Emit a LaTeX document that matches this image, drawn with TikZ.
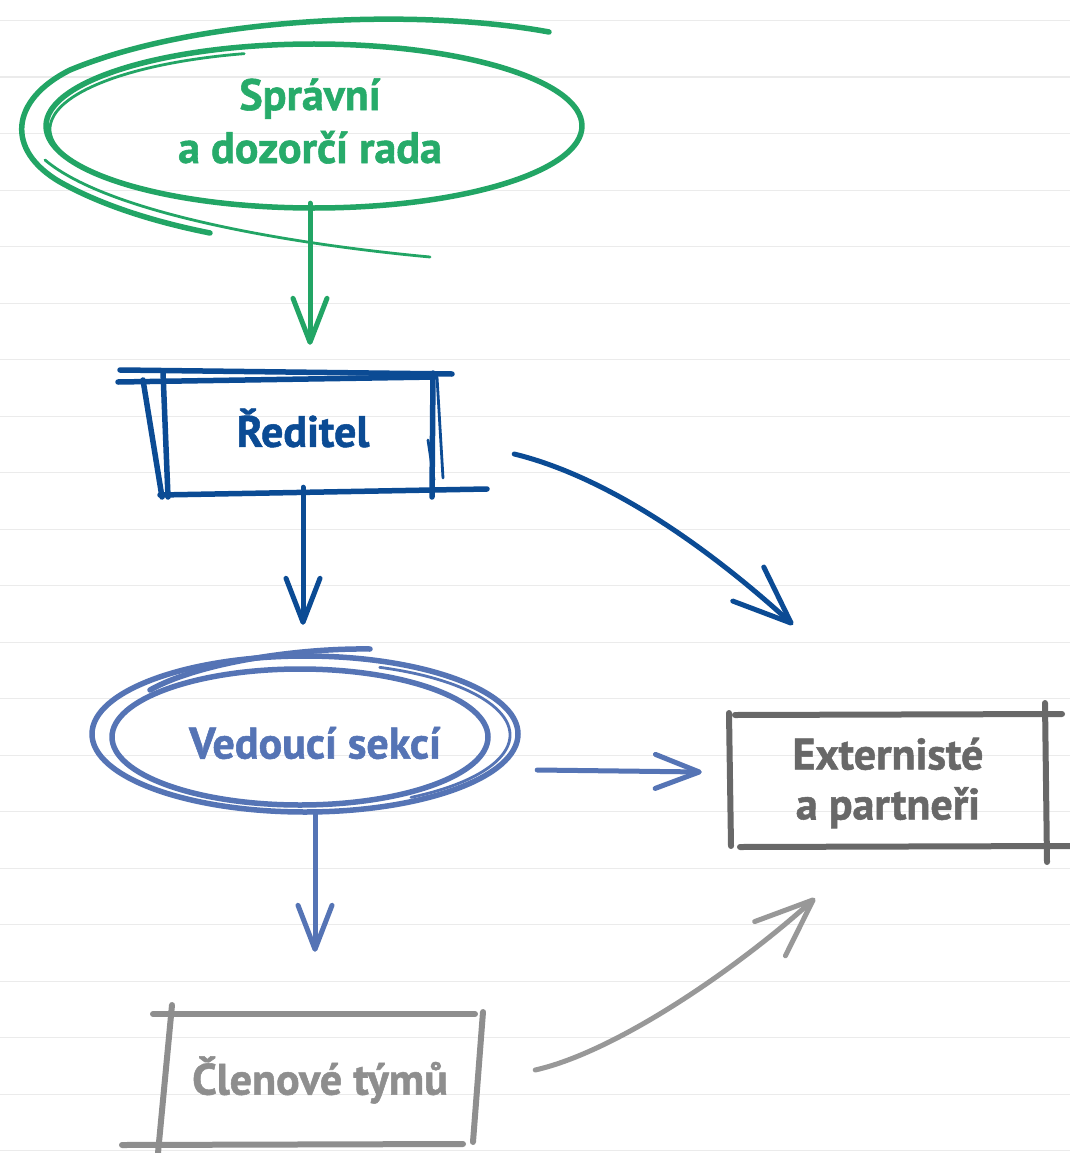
\documentclass[tikz,border=0pt]{standalone}
\usepackage{fontspec}
\setmainfont{PT Sans}[BoldFeatures={FakeBold=1.2}]
\usetikzlibrary{arrows.meta,shapes.geometric}
\definecolor{rulegray}{HTML}{EBEBEB}
\definecolor{cgreen}{HTML}{22A565}
\definecolor{tgreen}{HTML}{27AB6A}
\definecolor{dblue}{HTML}{0B4B94}
\definecolor{mblue}{HTML}{5574B5}
\definecolor{dgray}{HTML}{686868}
\definecolor{lgray}{HTML}{8E8E8E}
\definecolor{agray}{HTML}{989898}
\begin{document}
\begin{tikzpicture}[x=1pt,y=-1pt,
  rule/.style={draw=rulegray, line width=1.4pt},
  sk/.style={line width=5.5pt, line cap=round, line join=round},
  skthin/.style={line width=2.8pt, line cap=round, line join=round},
  lbl/.style={font=\fontsize{44}{53}\selectfont\bfseries, align=center, inner sep=0pt},
  arr/.style={line width=5pt, line cap=round, -{Straight Barb[round,length=44pt,width=34pt]}},
  bigarr/.style={line width=5pt, line cap=round, -{Straight Barb[round,length=58pt,width=46pt]}}]
\useasboundingbox (0,0) rectangle (1070,1153);
\fill[white] (0,0) rectangle (1070,1153);
\foreach \i in {0,...,20} \draw[rule] (0,20.7+56.5*\i) -- (1070,20.7+56.5*\i);

% ---------- nodes (text) ----------
\node[lbl, text=tgreen, shape=ellipse, minimum width=536pt, minimum height=164pt] (council) at (310,121) {Správní\\a dozorčí rada};
\node[lbl, text=dblue, shape=rectangle, minimum width=275pt, minimum height=118pt] (director) at (303,428) {Ředitel};
\node[lbl, text=mblue, shape=ellipse, minimum width=426pt, minimum height=156pt] (vedouci) at (315,743) {Vedoucí sekcí};
\node[lbl, text=dgray, shape=rectangle, minimum width=318pt, minimum height=133pt] (ext) at (888,783) {Externisté\\[-3pt]a partneři};
\node[lbl, text=lgray, shape=rectangle, minimum width=320pt, minimum height=130pt] (members) at (320,1080) {Členové týmů};

% ---------- sketched outlines ----------
% council (green ellipse with loops)
\draw[sk, cgreen] (314,126) ellipse [x radius=268, y radius=82];
\draw[skthin, cgreen] ([shift={(100:262 and 78)}]312,129) arc[start angle=100, end angle=255, x radius=262, y radius=78];
\draw[sk, cgreen] (549,32) .. controls (420,8) and (200,16) .. (70,70)
   .. controls (10,100) and (5,150) .. (60,182) .. controls (110,210) and (170,225) .. (210,233);
\draw[skthin, cgreen] (45,160) .. controls (110,215) and (300,245) .. (430,257);

% director (dark blue sketchy box)
\draw[sk, dblue] (120,370) -- (452,374);
\draw[sk, dblue] (118,382) -- (435,377);
\draw[sk, dblue] (143,380) -- (162,497);
\draw[sk, dblue] (163,372) -- (168,497);
\draw[sk, dblue] (433,373) -- (432,497);
\draw[skthin, dblue] (437,377) -- (443,478);
\draw[skthin, dblue] (428,440) -- (434,480);
\draw[sk, dblue] (160,495) -- (487,489);

% vedouci (medium blue ellipses)
\draw[sk, mblue] (305,734) ellipse [x radius=213, y radius=78];
\draw[sk, mblue] (300,737) ellipse [x radius=188, y radius=68];
\draw[skthin, mblue] ([shift={(-70:198 and 72)}]312,735) arc[start angle=-70, end angle=60, x radius=198, y radius=72];
\draw[sk, mblue] (370,649) .. controls (300,648) and (200,662) .. (150,690);

% externisté (dark gray box)
\draw[sk, dgray, line width=6pt] (729,713) -- (731,846);
\draw[sk, dgray, line width=6pt] (735,715) -- (1062,714);
\draw[sk, dgray, line width=6pt] (1045,703) -- (1047,862);
\draw[sk, dgray, line width=6pt] (740,847) -- (1070,846);

% členové (light gray box)
\draw[sk, lgray, line width=6pt] (153,1014) -- (475,1014);
\draw[sk, lgray, line width=6pt] (172,1005) -- (158,1153);
\draw[sk, lgray, line width=6pt] (483,1012) -- (473,1142);
\draw[sk, lgray, line width=6pt] (122,1145) -- (463,1144);

% ---------- connectors ----------
\draw[arr, cgreen, shorten >=24pt] (council.south) -- (council.south |- director.north);
\draw[arr, dblue, shorten >=40pt] (director.south) -- (director.south |- vedouci.north);
\draw[arr, mblue, shorten <=-8pt, shorten >=63pt] (vedouci.south) -- (vedouci.south |- members.north);
\draw[arr, mblue] ([shift={(9,27)}]vedouci.east) -- ([shift={(-27,-11)}]ext.west);
\draw[bigarr, dblue] ([shift={(73.5,26)}]director.east) .. controls +(90,22) and +(-90,-82) .. ([shift={(-95,-91.5)}]ext.north);
\draw[bigarr, agray] ([shift={(55,-10)}]members.east) .. controls +(80,-18) and +(-80,72) .. ([shift={(-73,48.5)}]ext.south);
\end{tikzpicture}
\end{document}
